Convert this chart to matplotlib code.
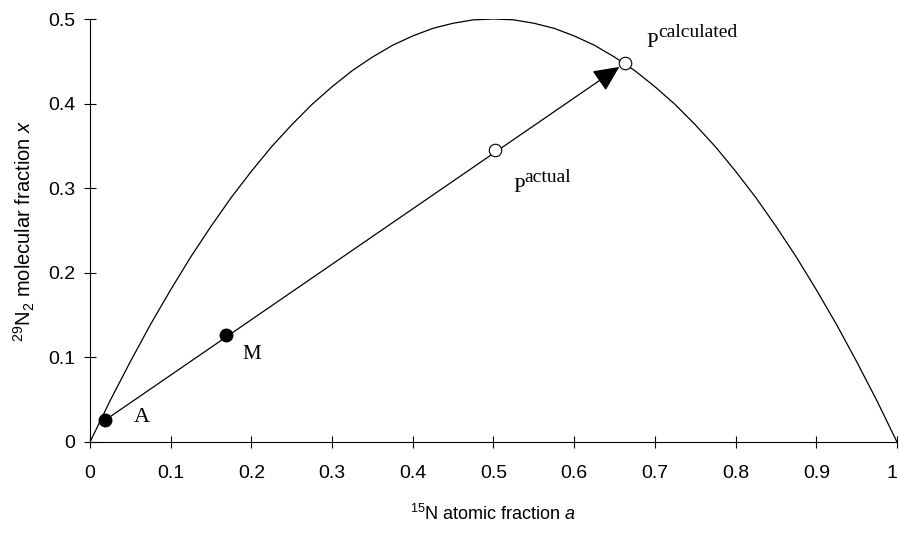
import matplotlib
matplotlib.use('Agg')
import matplotlib.pyplot as plt
from matplotlib.transforms import offset_copy

# ── 데이터 ────────────────────────────────────────────────────────────
# 곡선: 15N 원자 분율 a 에 대한 29N2 분자 분율 x
CURVE_A = [0.0, 0.025, 0.05, 0.075, 0.1, 0.125, 0.15, 0.175, 0.2, 0.225,
           0.25, 0.275, 0.3, 0.325, 0.35, 0.375, 0.4, 0.425, 0.45, 0.475,
           0.5, 0.525, 0.55, 0.575, 0.6, 0.625, 0.65, 0.675, 0.7, 0.725,
           0.75, 0.775, 0.8, 0.825, 0.85, 0.875, 0.9, 0.925, 0.95, 0.975, 1.0]
CURVE_X = [0.0, 0.049, 0.095, 0.139, 0.18, 0.219, 0.255, 0.289, 0.32, 0.349,
           0.375, 0.399, 0.42, 0.439, 0.455, 0.469, 0.48, 0.489, 0.495, 0.499,
           0.5, 0.499, 0.495, 0.489, 0.48, 0.469, 0.455, 0.439, 0.42, 0.399,
           0.375, 0.349, 0.32, 0.289, 0.255, 0.219, 0.18, 0.139, 0.095, 0.049, 0.0]

# 점: A, M (채움), P actual, P calculated (빈 원)
FILLED_NAMES = ['A', 'M']
FILLED_A = [0.019, 0.169]
FILLED_X = [0.026, 0.126]
OPEN_NAMES = ['actual', 'calculated']
OPEN_A = [0.502, 0.663]
OPEN_X = [0.345, 0.448]

XTICKS = [0, 0.1, 0.2, 0.3, 0.4, 0.5, 0.6, 0.7, 0.8, 0.9, 1.0]
XTICK_LABELS = ['0', '0.1', '0.2', '0.3', '0.4', '0.5', '0.6', '0.7', '0.8', '0.9', '1']
YTICKS = [0, 0.1, 0.2, 0.3, 0.4, 0.5]
YTICK_LABELS = ['0', '0.1', '0.2', '0.3', '0.4', '0.5']

# ── 폰트 ─────────────────────────────────────────────────────────────────────
plt.rcParams['font.family'] = ['Liberation Sans', 'DejaVu Sans']
plt.rcParams['mathtext.fontset'] = 'custom'
plt.rcParams['mathtext.rm'] = 'Liberation Sans'
plt.rcParams['mathtext.it'] = 'Liberation Sans:italic'
SERIF = ['Liberation Serif', 'DejaVu Serif']

# ── 화면 구성 ─────────────────────────────────────────────────────────────────
fig = plt.figure(figsize=(8.99, 5.33), dpi=100)
ax = fig.add_axes([90 / 899, 91 / 533, 807 / 899, 423 / 533])

ax.plot(CURVE_A, CURVE_X, color='black', lw=0.9, zorder=2)

# A -> P calculated 화살표
ax.annotate('', xy=(OPEN_A[1], OPEN_X[1]), xytext=(FILLED_A[0], FILLED_X[0]),
            arrowprops=dict(arrowstyle='-|>,head_length=1.6,head_width=0.75',
                            color='black', lw=0.9, shrinkA=0, shrinkB=5),
            zorder=3)

ax.plot(FILLED_A, FILLED_X, 'o', color='black', markersize=9, zorder=4)
ax.plot(OPEN_A, OPEN_X, 'o', markerfacecolor='white', markeredgecolor='black',
        markeredgewidth=0.8, markersize=9, zorder=4)

# 라벨
ax.text(FILLED_A[0] + 0.035, FILLED_X[0] - 0.002, FILLED_NAMES[0],
        family=SERIF, fontsize=16, ha='left', va='baseline')
ax.text(FILLED_A[1] + 0.02, FILLED_X[1] - 0.028, FILLED_NAMES[1],
        family=SERIF, fontsize=15, ha='left', va='baseline')

p_offsets = [(0.525, 0.296), (0.69, 0.467)]
for name, (pa, px) in zip(OPEN_NAMES, p_offsets):
    ax.text(pa, px, 'P', family=SERIF, fontsize=15, ha='left', va='baseline')
    sup = offset_copy(ax.transData, fig=fig, x=11, y=10, units='dots')
    ax.text(pa, px, name, family=SERIF, fontsize=14, ha='left',
            va='baseline', transform=sup)

# 축
ax.set_xlim(0, 1)
ax.set_ylim(0, 0.5)
ax.spines['top'].set_visible(False)
ax.spines['right'].set_visible(False)
ax.set_xticks(XTICKS)
ax.set_xticklabels(XTICK_LABELS)
ax.set_yticks(YTICKS)
ax.set_yticklabels(YTICK_LABELS)
ax.tick_params(axis='both', direction='inout', length=9, width=0.8,
               labelsize=14)
ax.tick_params(axis='x', pad=12)
ax.tick_params(axis='y', pad=6)
# 오른쪽 끝 "1" 라벨이 잘리지 않도록 살짝 왼쪽으로
ax.get_xticklabels()[-1].set_horizontalalignment('right')

ax.set_xlabel(r'$^{15}$N atomic fraction $\mathit{a}$', fontsize=13, labelpad=16)
ax.set_ylabel(r'$^{29}$N$_2$ molecular fraction $\mathit{x}$', fontsize=14.5, labelpad=8)

fig.savefig('out.png', dpi=100)
